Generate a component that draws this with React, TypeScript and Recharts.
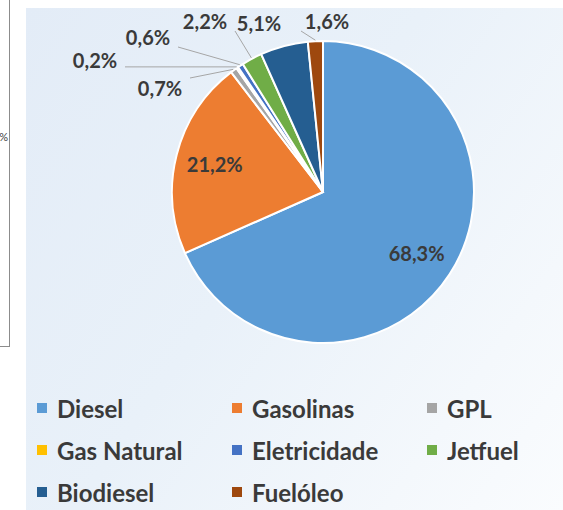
import { PieChart, Pie, Cell, Legend } from "recharts";

const categories = ["Diesel", "Gasolinas", "GPL", "Gas Natural", "Eletricidade", "Jetfuel", "Biodiesel", "Fuelóleo"];
const shares = [68.3, 21.2, 0.7, 0.2, 0.6, 2.2, 5.1, 1.6];
const colors = ["#5b9bd5", "#ed7d31", "#a5a5a5", "#ffc000", "#4472c4", "#70ad47", "#255e91", "#9e480e"];

// label placement for the thin slices (offset from pie centre), null = inside
const labelOffsets: ([number, number] | null)[] = [
  null,
  null,
  [-163, -104],
  [-228, -132],
  [-175, -155],
  [-118, -171],
  [-64, -169],
  [4, -171],
];
const leaderLines = [false, false, true, true, true, true, false, true];

const RADIAN = Math.PI / 180;
const TEXT = "#3a3a3a";
const FONT = "Lato, 'Open Sans', sans-serif";

const data = categories.map((name, i) => ({ name, value: shares[i] }));

const fmt = (v: number) => v.toFixed(1).replace(".", ",") + "%";

function renderLabel(props: any) {
  const { cx, cy, midAngle, outerRadius, index, value } = props;
  const off = labelOffsets[index];
  const cos = Math.cos(-midAngle * RADIAN);
  const sin = Math.sin(-midAngle * RADIAN);
  if (!off) {
    const r = outerRadius * 0.74;
    return (
      <text x={cx + r * cos} y={cy + r * sin} fill={TEXT} fontSize={20} fontWeight={700}
        fontFamily={FONT} textAnchor="middle" dominantBaseline="central">
        {fmt(value)}
      </text>
    );
  }
  const lx = cx + off[0];
  const ly = cy + off[1];
  const ex = cx + (outerRadius + 1) * cos;
  const ey = cy + (outerRadius + 1) * sin;
  const w = 56, h = 20;
  // nearest point on the label box
  let nx = Math.max(lx - w / 2, Math.min(ex, lx + w / 2));
  const ny = Math.max(ly - h / 2, Math.min(ey, ly + h / 2));
  if (nx > lx - w / 2 && nx < lx + w / 2 && ex < lx) nx = lx - w / 2 + 2;
  return (
    <g>
      {leaderLines[index] && (
        <polyline points={`${ex},${ey} ${nx + (nx > lx ? 2 : 0)},${ny}`} stroke="#a6a6a6" strokeWidth={1} fill="none" />
      )}
      <text x={lx} y={ly} fill={TEXT} fontSize={20} fontWeight={700}
        fontFamily={FONT} textAnchor="middle" dominantBaseline="central">
        {fmt(value)}
      </text>
    </g>
  );
}

function LegendGrid() {
  return (
    <div style={{ display: "grid", gridTemplateColumns: "195px 195px 140px", rowGap: 18, fontFamily: FONT }}>
      {categories.map((name, i) => (
        <div key={name} style={{ display: "flex", alignItems: "center", height: 24 }}>
          <span style={{ width: 10, height: 10, background: colors[i], marginRight: 10, flexShrink: 0 }} />
          <span style={{ fontSize: 24, fontWeight: 700, color: TEXT, whiteSpace: "nowrap" }}>{name}</span>
        </div>
      ))}
    </div>
  );
}

export default function App() {
  return (
    <div style={{ position: "fixed", left: 0, top: 0, width: 563, height: 510, background: "#fff", overflow: "hidden" }}>
      <div style={{ position: "absolute", left: -40, top: -2, width: 48, height: 347, border: "1px solid #8c8c8c", background: "#fff" }}>
        <span style={{ position: "absolute", right: 1, top: 131, fontFamily: FONT, fontSize: 11, color: "#404040" }}>%</span>
      </div>
      <div style={{
        position: "absolute", left: 26, top: 8, width: 537, height: 502,
        background: "linear-gradient(125deg, #e3ecf7 0%, #e9f1f9 45%, #f4f8fc 80%, #fafcfe 100%)",
      }}>
        <PieChart width={537} height={502} margin={{ top: 0, right: 0, bottom: 0, left: 0 }}>
          <Pie
            data={data}
            dataKey="value"
            nameKey="name"
            cx={297}
            cy={184}
            outerRadius={151}
            startAngle={90}
            endAngle={-270}
            stroke="#ffffff"
            strokeWidth={2}
            label={renderLabel}
            labelLine={false}
            isAnimationActive={false}
          >
            {data.map((d, i) => (
              <Cell key={d.name} fill={colors[i]} />
            ))}
          </Pie>
          <Legend content={<LegendGrid />} wrapperStyle={{ left: 11, top: 388, width: 530 }} />
        </PieChart>
      </div>
    </div>
  );
}
